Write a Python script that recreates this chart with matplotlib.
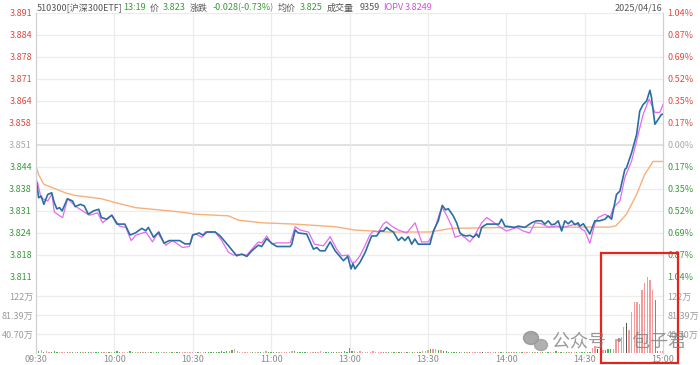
import numpy as np
import matplotlib
matplotlib.use('Agg')
import matplotlib.pyplot as plt
from matplotlib import patches

plt.rcParams['font.family'] = ['Noto Sans CJK SC', 'DejaVu Sans']

# ---- data (minutes since 09:30, lunch break removed) ----
prev_close = 3.851

price_t = [0, 1, 2, 3, 4.5, 6, 7, 8, 9, 10, 12, 14, 15, 17, 18.5, 20, 22, 24, 25, 27,
           29, 31, 34, 36, 38, 40.5, 42, 43, 45, 47, 49, 51, 55, 57, 59, 60, 62.5, 64,
           65.4, 68.6, 70.5, 73.7, 76.8, 78.8, 80.7, 82.6, 85.1, 86.4, 88.3, 90.2, 92.2,
           97.3, 97.9, 99.2, 100.4, 103.6, 106.2, 107.5, 108.7, 110.6, 112.6, 114.5,
           117.7, 119.3, 120.6, 121.3, 122.1, 124, 126, 127.2, 128.5, 130.4, 131.7, 133,
           134.2, 135.5, 136.8, 138.7, 140, 141.2, 142.5, 143.8, 145, 146.3, 150.8, 152.1,
           154, 155.5, 156.8, 157.8, 159.7, 161, 162.3, 163.6, 164.8, 166.1, 167.4, 168.7,
           169.5, 170.6, 172.5, 177.2, 178.2, 179.5, 181.4, 183.3, 184.6, 187.1, 189.7,
           191.6, 193.5, 194.8, 196.1, 197.3, 198.6, 199.9, 201.2, 202.4, 203.7, 205,
           206.3, 207.5, 208.2, 209.5, 212, 213.9, 215.8, 217.8, 219, 220.3, 222.2, 223.5,
           225.4, 226, 228, 229.9, 231.1, 232.4, 233.7, 235, 235.6, 236.9, 238.2, 239.4, 240]
price = [3.8411, 3.8350, 3.8355, 3.8330, 3.8360, 3.8365, 3.8335, 3.8316, 3.8320, 3.8310,
         3.8347, 3.8340, 3.8323, 3.8330, 3.8325, 3.8300, 3.8310, 3.8315, 3.8290, 3.8285,
         3.8297, 3.8270, 3.8270, 3.8237, 3.8243, 3.8257, 3.8250, 3.8260, 3.8230, 3.8246,
         3.8212, 3.8220, 3.8220, 3.8210, 3.8210, 3.8237, 3.8243, 3.8236, 3.8246, 3.8246,
         3.8234, 3.8204, 3.8174, 3.8179, 3.8172, 3.8189, 3.8206, 3.8202, 3.8226, 3.8212,
         3.8202, 3.8202, 3.8209, 3.8252, 3.8243, 3.8240, 3.8194, 3.8199, 3.8189, 3.8189,
         3.8216, 3.8189, 3.8159, 3.8172, 3.8134, 3.8150, 3.8134, 3.8154, 3.8184, 3.8209,
         3.8234, 3.8234, 3.8249, 3.8249, 3.8260, 3.8252, 3.8246, 3.8220, 3.8230, 3.8220,
         3.8232, 3.8209, 3.8225, 3.8209, 3.8209, 3.8249, 3.8280, 3.8327, 3.8313, 3.8317,
         3.8295, 3.8274, 3.8243, 3.8236, 3.8234, 3.8236, 3.8230, 3.8240, 3.8230, 3.8260,
         3.8270, 3.8270, 3.8285, 3.8264, 3.8262, 3.8260, 3.8264, 3.8260, 3.8274, 3.8280,
         3.8280, 3.8270, 3.8280, 3.8268, 3.8270, 3.8280, 3.8249, 3.8280, 3.8271, 3.8280,
         3.8268, 3.8274, 3.8264, 3.8271, 3.8240, 3.8280, 3.8280, 3.8285, 3.8295, 3.8285,
         3.8360, 3.8370, 3.8436, 3.8440, 3.8487, 3.8542, 3.8613, 3.8633, 3.8643, 3.8676,
         3.8654, 3.8573, 3.8588, 3.8603, 3.8603]

iopv_t = [0.6, 1.9, 4.5, 6.1, 7, 9.6, 10.2, 12.1, 15.3, 20.4, 23.6, 25.5, 29.1, 31.9, 34.4,
          36.4, 38.3, 42.1, 44.6, 46.6, 49.7, 52.3, 56.1, 58.7, 59.9, 61.2, 63.5, 64.7,
          68.6, 71.1, 73.7, 75.6, 77.5, 80.7, 83.2, 85.1, 86.4, 88.3, 90.2, 92.2, 97.3,
          99.2, 101.1, 104.3, 106.6, 110, 112.6, 115.1, 117, 119.6, 120.9, 122.1, 124,
          125.9, 127.8, 129.1, 131, 132.9, 134.2, 136.1, 138.7, 141.9, 145.1, 146.3, 147.6,
          150.2, 152.1, 154.6, 155.5, 157.2, 159.1, 160.4, 162.9, 166.1, 168, 170.6, 172.5,
          174.4, 177, 180.1, 183.3, 184, 186.5, 189, 191, 193.5, 196.1, 199.3, 201.8, 206.9,
          208.8, 210.1, 212, 213.9, 215.2, 217.8, 219.7, 221, 223.5, 225.4, 228, 230.5,
          232.4, 234.7, 236.9, 238.8, 240]
iopv = [3.8396, 3.8350, 3.8340, 3.8362, 3.8307, 3.8292, 3.8290, 3.8347, 3.8323, 3.8297,
        3.8304, 3.8274, 3.8297, 3.8264, 3.8260, 3.8220, 3.8237, 3.8246, 3.8216, 3.8243,
        3.8206, 3.8220, 3.8199, 3.8202, 3.8237, 3.8240, 3.8230, 3.8246, 3.8246, 3.8220,
        3.8184, 3.8176, 3.8178, 3.8176, 3.8199, 3.8216, 3.8213, 3.8234, 3.8210, 3.8213,
        3.8213, 3.8262, 3.8252, 3.8246, 3.8209, 3.8204, 3.8232, 3.8194, 3.8174, 3.8176,
        3.8154, 3.8154, 3.8174, 3.8204, 3.8237, 3.8249, 3.8246, 3.8270, 3.8277, 3.8264,
        3.8252, 3.8243, 3.8274, 3.8246, 3.8216, 3.8216, 3.8243, 3.8305, 3.8320, 3.8296,
        3.8264, 3.8230, 3.8237, 3.8216, 3.8237, 3.8274, 3.8290, 3.8280, 3.8264, 3.8249,
        3.8258, 3.8260, 3.8249, 3.8243, 3.8274, 3.8271, 3.8261, 3.8264, 3.8260, 3.8271,
        3.8255, 3.8249, 3.8212, 3.8271, 3.8290, 3.8300, 3.8290, 3.8320, 3.8340, 3.8411,
        3.8462, 3.8542, 3.8603, 3.8649, 3.8609, 3.8609, 3.8633]

avg_t = [0, 1, 3, 11.5, 15, 25, 30, 38, 55, 61, 73.7, 77.5, 86.4, 99, 114.5, 122, 135,
         150.8, 159, 181, 219.7, 222, 226, 229.9, 233, 236.2, 240]
avg_price = [3.8446, 3.8420, 3.8391, 3.8364, 3.8357, 3.8347, 3.8336, 3.8320, 3.8307,
             3.8300, 3.8295, 3.8282, 3.8274, 3.8270, 3.8262, 3.8252, 3.8246, 3.8246,
             3.8257, 3.8260, 3.8261, 3.8265, 3.8300, 3.8360, 3.8421, 3.8460, 3.8460]

# volume per minute (万), one bar per minute 0..240
volume = [16, 4, 6, 3, 5, 3, 2, 4, 3, 2, 3, 2, 3, 2, 2, 3, 2, 2, 3, 2,
          2, 2, 3, 2, 2, 3, 2, 2, 2, 2, 3, 4, 3, 3, 2, 3, 4, 2, 3, 2,
          2, 3, 2, 2, 3, 2, 2, 2, 3, 2, 2, 2, 3, 2, 2, 2, 3, 2, 2, 2,
          3, 2, 3, 2, 2, 2, 3, 2, 2, 2, 3, 4, 3, 5, 4, 6, 9, 5, 3, 2,
          2, 3, 2, 2, 3, 2, 2, 3, 4, 2, 3, 2, 2, 3, 2, 2, 2, 3, 5, 4,
          3, 2, 2, 3, 2, 2, 3, 2, 2, 4, 3, 2, 3, 2, 2, 3, 2, 3, 4, 3,
          10, 4, 5, 3, 4, 3, 3, 2, 3, 4, 2, 3, 2, 2, 3, 2, 2, 2, 3, 2,
          2, 3, 2, 2, 2, 3, 2, 3, 4, 5, 7, 8, 9, 8, 7, 6, 5, 4, 3, 3,
          2, 3, 2, 2, 2, 3, 2, 2, 2, 3, 2, 2, 2, 2, 3, 2, 2, 2, 2, 2,
          2, 2, 3, 2, 2, 2, 2, 3, 2, 2, 2, 3, 2, 2, 2, 2, 3, 2, 3, 4,
          2, 3, 2, 2, 3, 2, 2, 3, 2, 2, 3, 2, 3, 11, 15, 8, 6, 7, 7, 8,
          9, 9, 30, 30, 35, 55, 64, 50, 88, 109, 109, 104, 134, 151, 162, 156, 134, 113, 4, 4, 4]
vol_dir = ("ggrgrrgggrrrgrgrggrg" "grrgggrrgrgggrrrggrr" "grgrgrggrrgrgrggrrrr"
           "rrgrrgggggggggrgrrrr" "rrrgrrgrrggggrrrrrrg" "ggggrrrgrrrgggggrggg"
           "ggrrrrrrrrrrrgrgrgrg" "grgrgrggrrrgrrgrgggg" "gggrgrgrrrrkrrrrgrgr"
           "grgrgrgrrrgrgrgrgrrg" "rgrgrgrgrgggg" "rrkgrgg" "grrrrrkrrrrrrrrrrggrr")

price_labels = ['3.891', '3.884', '3.878', '3.871', '3.864', '3.858', '3.851',
                '3.844', '3.838', '3.831', '3.824', '3.818', '3.811']
pct_labels = ['1.04%', '0.87%', '0.69%', '0.52%', '0.35%', '0.17%', '0.00%',
              '0.17%', '0.35%', '0.52%', '0.69%', '0.87%', '1.04%']
vol_ticks = [40.70, 81.39, 122.1]
vol_labels = ['40.70万', '81.39万', '122万']
vol_top = 162.8
time_ticks = [0, 30, 60, 90, 120, 150, 180, 210, 240]
time_labels = ['09:30', '10:00', '10:30', '11:00', '13:00', '13:30', '14:00', '14:30', '15:00']

RED = '#e5473f'
GREEN = '#3a9a3a'
GRAY = '#a8a8a8'
GRID = '#ececec'
FS = 6.5

W, H = 700, 365
fig = plt.figure(figsize=(W / 100, H / 100), dpi=100)

left, right = 36, 663
ax = fig.add_axes([left / W, 1 - 277 / H, (right - left) / W, 264 / H])
axv = fig.add_axes([left / W, 1 - 353 / H, (right - left) / W, 76 / H], sharex=ax)

step = 1.04 / 6 / 100
levels = [prev_close * (1 + step * k) for k in range(6, -7, -1)]

# price panel
ax.set_xlim(0, 240)
ax.set_ylim(levels[-1], levels[0])
for i, lv in enumerate(levels):
    if i == 6:
        ax.axhline(lv, color='#dcdcdc', lw=1.2, zorder=0)
    elif i == len(levels) - 1:
        ax.axhline(lv, color='#cfcfcf', lw=0.9, ls=(0, (1, 2)), zorder=0)
    else:
        ax.axhline(lv, color=GRID, lw=0.9, zorder=0)
for t in time_ticks[1:-1]:
    ax.axvline(t, color=GRID, lw=0.9, zorder=0)
    axv.axvline(t, color=GRID, lw=0.9, zorder=0)

ax.plot(avg_t, avg_price, color='#f7b07a', lw=1.0, zorder=2)
ax.plot(iopv_t, iopv, color='#e06cf0', lw=0.9, zorder=3)
ax.plot(price_t, price, color='#2a6fa3', lw=1.2, zorder=4)

ax.set_yticks(levels)
ax.set_yticklabels(price_labels)
ax.tick_params(axis='y', length=0, pad=3, labelsize=FS)
ax.tick_params(axis='x', length=0, labelbottom=False)
for i, lab in enumerate(ax.get_yticklabels()):
    lab.set_color(RED if i < 6 else (GRAY if i == 6 else GREEN))

axr = ax.twinx()
axr.set_ylim(ax.get_ylim())
axr.set_yticks(levels)
axr.set_yticklabels(pct_labels)
axr.tick_params(axis='y', length=0, pad=3, labelsize=FS)
for i, lab in enumerate(axr.get_yticklabels()):
    lab.set_color(RED if i < 6 else (GRAY if i == 6 else GREEN))

for a in (ax, axr):
    a.spines['top'].set_visible(False)
    a.spines['bottom'].set_visible(False)
    a.spines['left'].set_color('#d0d0d0')
    a.spines['right'].set_color('#d0d0d0')

# volume panel
colmap = {'r': '#f39a9a', 'g': '#4fae4f', 'k': '#555555'}
bar_colors = [colmap[c] for c in vol_dir]
axv.bar(np.arange(len(volume)), volume, width=0.5, color=bar_colors, zorder=2)
axv.set_ylim(0, vol_top)
for v in vol_ticks:
    axv.axhline(v, color=GRID, lw=0.9, zorder=0)
axv.set_yticks(vol_ticks)
axv.set_yticklabels(vol_labels)
axv.tick_params(axis='y', length=0, pad=2, labelsize=FS, labelcolor='#9a9a9a')
axv.set_xticks(time_ticks)
axv.set_xticklabels(time_labels)
axv.tick_params(axis='x', length=0, pad=1.5, labelsize=FS, labelcolor='#8a8a8a')

axvr = axv.twinx()
axvr.set_ylim(0, vol_top)
axvr.set_yticks(vol_ticks)
axvr.set_yticklabels(vol_labels)
axvr.tick_params(axis='y', length=0, pad=3, labelsize=FS, labelcolor='#9a9a9a')
for a in (axv, axvr):
    a.spines['top'].set_visible(False)
    a.spines['bottom'].set_visible(False)
    a.spines['left'].set_color('#d0d0d0')
    a.spines['right'].set_color('#d0d0d0')

# header line
hy = 1 - 8 / H
header = [
    (37, '510300[沪深300ETF]', '#555555'),
    (123, '13:19', GREEN),
    (150, '价', '#555555'),
    (163, '3.823', GREEN),
    (190, '涨跌', '#555555'),
    (213, '-0.028(-0.73%)', GREEN),
    (278, '均价', '#555555'),
    (300, '3.825', GREEN),
    (327, '成交量', '#555555'),
    (360, '9359', '#555555'),
    (383, 'IOPV', '#d24ee0'),
    (405, '3.8249', '#d24ee0'),
]
for x, s, c in header:
    fig.text(x / W, hy, s, fontsize=FS, color=c, va='center', ha='left')
fig.text(662 / W, hy, '2025/04/16', fontsize=FS, color='#555555', va='center', ha='right')

# highlight box
fig.patches.append(patches.Rectangle((601 / W, 1 - 363 / H), 77 / W, 110 / H,
                                     transform=fig.transFigure, fill=False,
                                     edgecolor='#e8231b', lw=1.6))

# watermark
fig.patches.append(patches.Ellipse((531 / W, 1 - 338 / H), 15 / W, 13 / H,
                                   transform=fig.transFigure, color='#8c8c8c', alpha=0.75))
fig.patches.append(patches.Ellipse((541 / W, 1 - 345 / H), 13 / W, 11 / H,
                                   transform=fig.transFigure, color='#9c9c9c', alpha=0.8))
fig.text(552 / W, 1 - 342 / H, '公众号 · 包子君', fontsize=13, color='#808080',
         alpha=0.8, va='center', ha='left')

fig.savefig('out.png', dpi=100)
